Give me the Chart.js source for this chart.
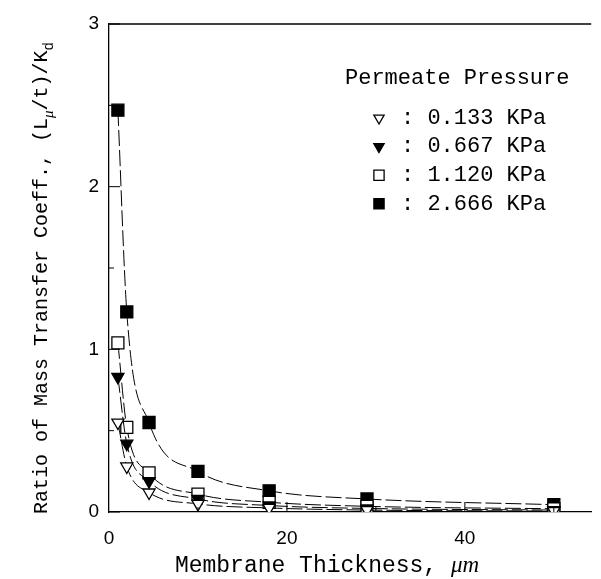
<!DOCTYPE html>
<html>
<head>
<meta charset="utf-8">
<script src="https://cdn.jsdelivr.net/npm/chart.js@4/dist/chart.umd.min.js"></script>
<style>
  html, body { margin: 0; padding: 0; background: #fff; }
  canvas { display: block; }
</style>
</head>
<body>
<canvas id="massChart" width="601" height="579"></canvas>
<script>
// membrane thickness (um) and ratio of mass transfer coeff. per permeate pressure
const thickness = [1, 2, 4.5, 10, 18, 29, 50];
const ratio0133 = [0.55, 0.28, 0.12, 0.05, 0.025, 0.012, 0.006];
const ratio0667 = [0.83, 0.42, 0.19, 0.08, 0.04, 0.022, 0.012];
const ratio1120 = [1.04, 0.52, 0.24, 0.11, 0.06, 0.035, 0.02];
const ratio2666 = [2.47, 1.23, 0.55, 0.25, 0.13, 0.08, 0.045];

const pressureLabels = ['0.133 KPa', '0.667 KPa', '1.120 KPa', '2.666 KPa'];
const legendTitle = 'Permeate Pressure';
const xTicks = [0, 20, 40];
const yTicks = [0, 1, 2, 3];
const xTitle = 'Membrane Thickness, ';
const xTitleUnit = 'μm';

const monoFont = "'Liberation Mono', monospace";
const sansFont = "'Liberation Sans', sans-serif";

// marker look for each series (same order as pressureLabels)
const markers = [
    { pointStyle: 'triangle', rotation: 180, radius: 7, fill: '#fff' },
    { pointStyle: 'triangle', rotation: 180, radius: 7, fill: '#000' },
    { pointStyle: 'rect', rotation: 0, radius: 8.5, fill: '#fff' },
    { pointStyle: 'rect', rotation: 0, radius: 8.5, fill: '#000' }
];

const seriesValues = [ratio0133, ratio0667, ratio1120, ratio2666];

const datasets = seriesValues.map((vals, i) => ({
    label: pressureLabels[i],
    data: vals.map((v, j) => ({ x: thickness[j], y: v })),
    showLine: true,
    cubicInterpolationMode: 'monotone',
    borderColor: '#000',
    borderWidth: 1,
    borderDash: [16, 4],
    pointStyle: markers[i].pointStyle,
    pointRotation: markers[i].rotation,
    pointRadius: markers[i].radius,
    pointBackgroundColor: markers[i].fill,
    pointBorderColor: '#000',
    pointBorderWidth: 1.3
}));

// inside ticks, top frame line, legend and axis titles
const decorPlugin = {
    id: 'decor',
    afterDraw(chart) {
        const ctx = chart.ctx;
        const area = chart.chartArea;
        const xs = chart.scales.x;
        const ys = chart.scales.y;
        ctx.save();
        ctx.strokeStyle = '#000';
        ctx.lineWidth = 1.3;
        ctx.setLineDash([]);

        // top frame
        ctx.beginPath();
        ctx.moveTo(area.left, area.top);
        ctx.lineTo(area.right, area.top);
        ctx.stroke();

        // y ticks pointing inward
        ctx.lineWidth = 1;
        for (let v = 0; v <= 3; v += 0.5) {
            let py = ys.getPixelForValue(v);
            let len = (v % 1 === 0) ? 11 : 5;
            ctx.beginPath();
            ctx.moveTo(area.left, py);
            ctx.lineTo(area.left + len, py);
            ctx.stroke();
        }
        // x ticks pointing inward
        for (let v = 10; v <= 50; v += 10) {
            let px = xs.getPixelForValue(v);
            let len = (v % 20 === 0) ? 10 : 5;
            ctx.beginPath();
            ctx.moveTo(px, area.bottom);
            ctx.lineTo(px, area.bottom - len);
            ctx.stroke();
        }

        // legend
        ctx.fillStyle = '#000';
        ctx.textBaseline = 'middle';
        ctx.textAlign = 'left';
        ctx.font = `22px ${monoFont}`;
        ctx.fillText(legendTitle, 345, 78);
        pressureLabels.forEach((lab, i) => {
            let y = 118 + i * 28.6;
            let m = markers[i];
            ctx.fillStyle = m.fill;
            ctx.strokeStyle = '#000';
            ctx.lineWidth = 1.3;
            Chart.helpers.drawPoint(ctx, {
                pointStyle: m.pointStyle,
                rotation: m.rotation,
                radius: m.radius * 0.85,
                borderWidth: 1.3
            }, 379, y);
            ctx.fillStyle = '#000';
            ctx.fillText(': ' + lab, 401, y);
        });

        // x title
        ctx.textBaseline = 'alphabetic';
        ctx.font = `23px ${monoFont}`;
        let w1 = ctx.measureText(xTitle).width;
        ctx.font = `italic 23px 'Liberation Serif', serif`;
        let w2 = ctx.measureText(xTitleUnit).width;
        let sx = 327 - (w1 + w2) / 2;
        ctx.font = `23px ${monoFont}`;
        ctx.fillText(xTitle, sx, 572);
        ctx.font = `italic 23px 'Liberation Serif', serif`;
        ctx.fillText(xTitleUnit, sx + w1, 572);

        // y title with subscripts
        const parts = [
            { t: 'Ratio of Mass Transfer Coeff., (L', sub: false },
            { t: 'μ', sub: true, italic: true },
            { t: '/t)/K', sub: false },
            { t: 'd', sub: true }
        ];
        const mainF = `20px ${monoFont}`;
        const subF = `14px ${monoFont}`;
        const subI = `italic 15px 'Liberation Serif', serif`;
        let total = 0;
        parts.forEach(p => {
            ctx.font = p.sub ? (p.italic ? subI : subF) : mainF;
            p.w = ctx.measureText(p.t).width;
            total += p.w;
        });
        ctx.translate(47, 278);
        ctx.rotate(-Math.PI / 2);
        let cx = -total / 2;
        parts.forEach(p => {
            ctx.font = p.sub ? (p.italic ? subI : subF) : mainF;
            ctx.fillText(p.t, cx, p.sub ? 6 : 0);
            cx += p.w;
        });
        ctx.restore();
    }
};

const massChart = new Chart(document.getElementById('massChart').getContext('2d'), {
    type: 'scatter',
    data: { datasets: datasets },
    options: {
        responsive: false,
        animation: false,
        devicePixelRatio: 1,
        layout: { padding: { top: 24, right: 0, left: 0, bottom: 0 } },
        plugins: {
            legend: { display: false },
            tooltip: { enabled: false }
        },
        scales: {
            x: {
                type: 'linear',
                min: 0,
                max: 54.2,
                afterBuildTicks: s => { s.ticks = xTicks.map(v => ({ value: v })); },
                afterFit: s => { s.height = 67; },
                grid: { display: false, drawTicks: false },
                border: { display: true, color: '#000', width: 1.3 },
                ticks: {
                    color: '#000',
                    font: { family: sansFont, size: 19 },
                    padding: 15,
                    maxRotation: 0,
                    autoSkip: false
                }
            },
            y: {
                type: 'linear',
                min: 0,
                max: 3,
                afterBuildTicks: s => { s.ticks = yTicks.map(v => ({ value: v })); },
                afterFit: s => { s.width = 109; },
                grid: { display: false, drawTicks: false },
                border: { display: true, color: '#000', width: 1.3 },
                ticks: {
                    color: '#000',
                    font: { family: sansFont, size: 19 },
                    padding: 10,
                    autoSkip: false
                }
            }
        }
    },
    plugins: [decorPlugin]
});
</script>
</body>
</html>
